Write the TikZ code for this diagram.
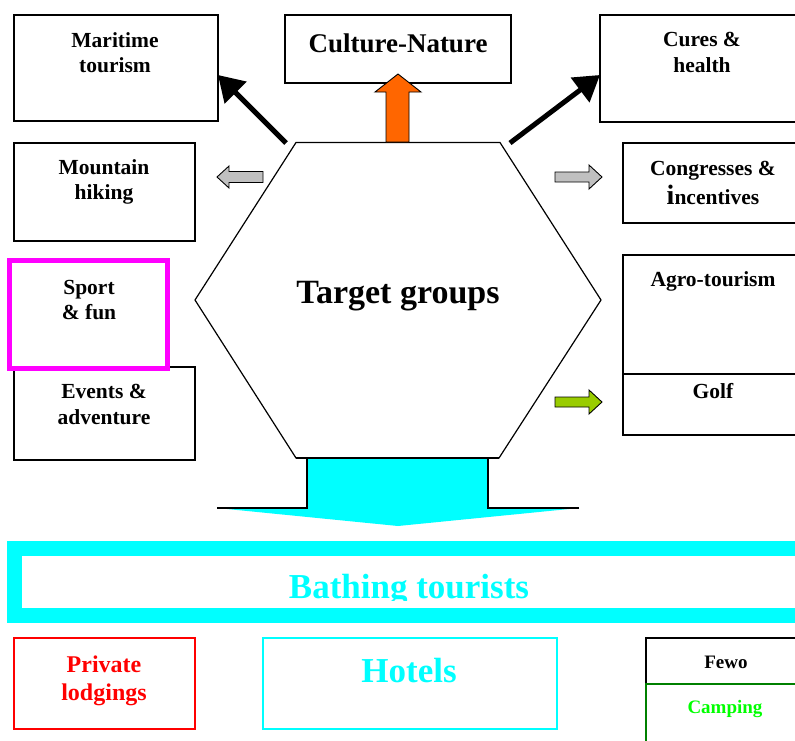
\documentclass[tikz,border=0pt]{standalone}
\usepackage{fontspec}
\setmainfont{Liberation Serif}
\usetikzlibrary{arrows.meta}
\definecolor{cyanc}{HTML}{00FFFF}
\definecolor{magc}{HTML}{FF00FF}
\definecolor{redc}{HTML}{FF0000}
\definecolor{grayc}{HTML}{C0C0C0}
\definecolor{greenarr}{HTML}{99CC00}
\definecolor{orangec}{HTML}{FF6600}
\definecolor{campt}{HTML}{00FF00}
\definecolor{campb}{HTML}{008000}
\tikzset{
  box/.style={draw=black, line width=1.2pt, rectangle, inner sep=0pt},
  lbl/.style={inner sep=0pt, anchor=base, font=\bfseries\fontsize{21.5}{21.5}\selectfont},
  bigarrow/.style={line width=5pt, -{Triangle[length=25pt,width=30pt]}},
  blockarrow/.style={draw=black, line width=0.9pt, line join=miter}
}
\begin{document}
\begin{tikzpicture}[x=1pt,y=-1pt]
\useasboundingbox (0,0) rectangle (795,740);
\clip (0,0) rectangle (795,740);
% boxes
\node[box, minimum width=204, minimum height=106] (mar) at (116,68) {};
\node[box, minimum width=226, minimum height=68] (cul) at (398,49) {};
\node[box, minimum width=206, minimum height=107] (cur) at (703,68.5) {};
\node[box, minimum width=181, minimum height=98] (mou) at (104.5,192) {};
\node[box, minimum width=182, minimum height=80] (con) at (714,183) {};
\node[box, minimum width=181, minimum height=93] (eve) at (104.5,413.5) {};
\node[box, draw=magc, line width=5pt, minimum width=158, minimum height=108] (spo) at (88.5,314.5) {};
\node[box, minimum width=182, minimum height=119] (agr) at (714,314.5) {};
\node[box, minimum width=182, minimum height=61] (gol) at (714,404.5) {};
\node[box, draw=cyanc, line width=15pt, minimum width=789.5, minimum height=67] (bat) at (409.25,582) {};
\node[box, draw=redc, minimum width=181, minimum height=91] (pri) at (104.5,683.5) {};
\node[box, draw=cyanc, minimum width=294, minimum height=91] (hot) at (410,683.5) {};
\node[box, minimum width=160, minimum height=46] (few) at (726,661) {};
\node[box, draw=campb, minimum width=160, minimum height=96] (cam) at (726,732) {};
% hexagon
\coordinate (h1) at (296,142.5);
\coordinate (h2) at (500,142.5);
\coordinate (h3) at (601,300);
\coordinate (h4) at (499,458);
\coordinate (h5) at (296,458);
\coordinate (h6) at (195,300);
\draw[line width=1.2pt, line join=miter] (h1) -- (h2) -- (h3) -- (h4) -- (h5) -- (h6) -- cycle;
% labels
\node[lbl] (t1) at (115,47) {Maritime};
\node[lbl] (t2) at (115,72) {tourism};
\node[lbl, font=\bfseries\fontsize{27}{27}\selectfont] (t3) at (398,52) {Culture-Nature};
\node[lbl] (t4) at (702,46) {Cures \&};
\node[lbl] (t5) at (702,72) {health};
\node[lbl] (t6) at (104,174) {Mountain};
\node[lbl] (t7) at (104,199) {hiking};
\node[lbl] (t8) at (713,175) {Congresses \&};
\node[lbl] (t9) at (713,204) {{\fontsize{28}{28}\selectfont i}ncentives};
\node[lbl] (t10) at (89,294) {Sport};
\node[lbl] (t11) at (89,319) {\& fun};
\node[lbl] (t12) at (104,398) {Events \&};
\node[lbl] (t13) at (104,424) {adventure};
\node[lbl] (t14) at (713,286) {Agro-tourism};
\node[lbl] (t15) at (713,398) {Golf};
\node[lbl, font=\bfseries\fontsize{34}{34}\selectfont] (tg) at (398,303) {Target groups};
\begin{scope}
\clip (0,0) rectangle (795,600);
\node[lbl, text=cyanc, font=\bfseries\fontsize{35}{35}\selectfont] (tb) at (409,598) {Bathing tourists};
\end{scope}
\node[lbl, text=redc, font=\bfseries\fontsize{24}{24}\selectfont] (tp1) at (104,672) {Private};
\node[lbl, text=redc, font=\bfseries\fontsize{24}{24}\selectfont] (tp2) at (104,700) {lodgings};
\node[lbl, text=cyanc, font=\bfseries\fontsize{35}{35}\selectfont] (th) at (409,682) {Hotels};
\node[lbl, font=\bfseries\fontsize{19}{19}\selectfont] (tf) at (726,668) {Fewo};
\node[lbl, text=campt, font=\bfseries\fontsize{19}{19}\selectfont] (tc) at (725,713) {Camping};
% black arrows
\coordinate (marTip) at (218,75);
\coordinate (curTip) at (600,75);
\draw[bigarrow] (286,143) -- (marTip);
\draw[bigarrow] (510,143) -- (curTip);
% orange arrow
\draw[blockarrow, fill=orangec] (398,74) -- (421,92) -- (409,92) -- (409,142) -- (386,142) -- (386,92) -- (375,92) -- cycle;
% gray arrows
\draw[blockarrow, fill=grayc] (217,177) -- (229,166) -- (229,171.5) -- (263,171.5) -- (263,182.5) -- (229,182.5) -- (229,188) -- cycle;
\draw[blockarrow, fill=grayc] (602,177) -- (589,165) -- (589,172) -- (555,172) -- (555,182) -- (589,182) -- (589,189) -- cycle;
% green arrow
\draw[blockarrow, fill=greenarr] (602,402) -- (589,390) -- (589,397) -- (555,397) -- (555,407) -- (589,407) -- (589,414) -- cycle;
% cyan arrow
\fill[cyanc] (307,458) -- (488,458) -- (488,508) -- (579,508) -- (398,526) -- (217,508) -- (307,508) -- cycle;
\draw[line width=1.2pt] (217,508) -- (307,508) -- (307,458);
\draw[line width=1.2pt] (579,508) -- (488,508) -- (488,458);
\draw[line width=1.2pt] (h5) -- (h4);
\end{tikzpicture}
\end{document}
